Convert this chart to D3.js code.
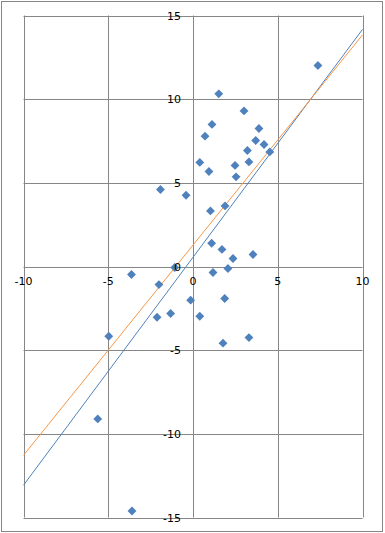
<!DOCTYPE html>
<html>
<head>
<meta charset="utf-8">
<title></title>
<script src="https://cdn.jsdelivr.net/npm/d3@7"></script>
<style>
  body { margin: 0; background: #fff; }
  text { font-family: "DejaVu Sans", Verdana, sans-serif; font-size: 11px; fill: #000; }
</style>
</head>
<body>
<div id="chart"></div>
<script>
  // scatter points
  var xs = [7.37, 1.52, 3.01, 1.12, 0.71, 3.89, 3.70, 4.19, 4.53, 3.21, 3.30, 0.40, 2.48,
            0.94, 2.54, -1.92, -0.41, 1.03, 1.89, 1.10, 1.71, 2.36, 3.54, -1.08, 2.06,
            1.18, -3.63, -2.01, -0.14, 1.87, -1.32, -2.12, 0.40, -4.97, 3.30, 1.77, -5.62, -3.60];
  var ys = [12.01, 10.32, 9.30, 8.49, 7.79, 8.25, 7.53, 7.29, 6.85, 6.93, 6.25, 6.22, 6.04,
            5.68, 5.36, 4.60, 4.26, 3.32, 3.62, 1.39, 1.02, 0.48, 0.72, -0.06, -0.12,
            -0.36, -0.48, -1.08, -2.01, -1.91, -2.81, -3.03, -2.97, -4.17, -4.25, -4.58, -9.11, -14.61];

  // two straight lines, endpoints at x = -10 and x = 10
  var blueLine = [[-10, -13.07], [10, 14.17]];
  var orangeLine = [[-10, -11.28], [10, 13.84]];

  var xTicks = [-10, -5, 0, 5, 10];
  var yTicks = [-15, -10, -5, 0, 5, 10, 15];

  var W = 385, H = 533;
  var svg = d3.select('#chart').append('svg').attr('width', W).attr('height', H);

  // outer frame
  svg.append('rect').attr('x', 1.5).attr('y', 1.5).attr('width', 381).attr('height', 530)
    .attr('fill', '#fff').attr('stroke', '#868686');

  var x = d3.scaleLinear().domain([-10, 10]).range([23.5, 362.5]);
  var y = d3.scaleLinear().domain([-15, 15]).range([517.5, 15.5]);

  // grid
  var grid = svg.append('g').attr('stroke', '#868686').attr('stroke-width', 1);
  grid.selectAll('.vx').data(xTicks).enter().append('line')
    .attr('x1', function(d) { return Math.round(x(d)) + 0.5; })
    .attr('x2', function(d) { return Math.round(x(d)) + 0.5; })
    .attr('y1', y(15)).attr('y2', y(-15));
  grid.selectAll('.hy').data(yTicks).enter().append('line')
    .attr('y1', function(d) { return Math.round(y(d)) + 0.5; })
    .attr('y2', function(d) { return Math.round(y(d)) + 0.5; })
    .attr('x1', x(-10)).attr('x2', x(10));

  // lines
  var line = d3.line().x(function(d) { return x(d[0]); }).y(function(d) { return y(d[1]); });
  svg.append('path').datum(blueLine).attr('d', line)
    .attr('fill', 'none').attr('stroke', '#4F81BD').attr('stroke-width', 1);
  svg.append('path').datum(orangeLine).attr('d', line)
    .attr('fill', 'none').attr('stroke', '#F79646').attr('stroke-width', 1);

  // diamonds
  var pts = xs.map(function(v, i) { return [v, ys[i]]; });
  var sym = d3.symbol().type(d3.symbolDiamond2).size(50);
  svg.selectAll('.pt').data(pts).enter().append('path')
    .attr('d', sym)
    .attr('transform', function(d) { return 'translate(' + x(d[0]) + ',' + y(d[1]) + ')'; })
    .attr('fill', '#4F81BD');

  // tick labels next to the axes through origin (drawn on top of the points)
  svg.selectAll('.xl').data(xTicks).enter().append('text')
    .attr('x', function(d) { return x(d); })
    .attr('y', y(0) + 18)
    .attr('text-anchor', 'middle')
    .text(function(d) { return d; });
  svg.selectAll('.yl').data(yTicks).enter().append('text')
    .attr('x', x(0) - 12)
    .attr('y', function(d) { return y(d) + 4; })
    .attr('text-anchor', 'end')
    .text(function(d) { return d; });
</script>
</body>
</html>
